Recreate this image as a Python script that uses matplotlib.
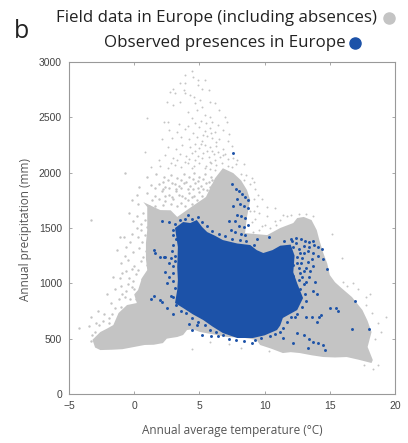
import matplotlib
matplotlib.use("Agg")
import matplotlib.pyplot as plt
from matplotlib.lines import Line2D

# annual temperature (C), annual precipitation (mm)
field_outline = [(-3.2,490),(-3.0,420),(-2.6,397),(-1.7,400),(-0.9,405),(0.0,425),(0.8,443),(1.5,445),(2.2,460),(2.5,500),(2.75,505),(3.3,515),(3.75,533),(4.05,578),
    (4.5,585),(5.05,560),(6.0,540),(7.1,515),(8.3,510),(9.4,488),(9.65,443),(10.5,410),(11.4,370),(12.0,378),(12.7,370),(13.6,350),(14.5,334),(15.4,330),(16.3,334),(17.2,310),(18.2,280),
    (18.3,307),(17.9,425),(18.2,560),(17.9,660),(17.5,759),(16.7,876),(15.9,957),(15.4,1010),(15,1075),(14.8,1180),(14.5,1274),(14.2,1390),(14,1481),
    (13.6,1572),(13.0,1600),(12.5,1590),(12.2,1545),(11.2,1500),(10.2,1436),(8.5,1454),(8.65,1600),(8.9,1752),
    (8.65,1843),(8.2,1930),(7.6,1996),(6.8,2040),(6.2,1950),(5.5,1780),(4.5,1700),(3.3,1600),(2.8,1660),(2,1662),(0.7,1734),
    (1,1690),(1.0,1481),(0.9,1364),(0.9,1220),(1.0,1120),(0.6,1050),(0.3,940),(0.0,900),(0.2,822),(-0.55,804),
    (-1.2,732),(-1.6,623),(-2.1,590),(-2.6,560)]

presence_outline = [(3.13,1500),(3.75,1554),(4.3,1545),(4.8,1572),(5.2,1510),(5.6,1463),(6.2,1430),(6.8,1391),(7.9,1360),(8.9,1346),(9.4,1300),(9.9,1274),
    (10.6,1300),(11.2,1340),(12.0,1350),(12.3,1250),(12.2,1100),(12.5,1000),(12.95,867),(12.5,759),(11.4,687),(11.2,620),(10.95,578),(10.0,530),(9.1,506),
    (7.9,506),(6.8,551),(6.0,610),(5.3,668),(4.5,720),(3.75,777),(3.13,822),(3.3,940),(3.35,1030),(3.3,1147),(3.35,1328)]

field_top = [(4.41,2920),(3.9,2880),(4.5,2866),(4.9,2836),(5.4,2836),(3.5,2806),(3.9,2806),(3.0,2760),
    (2.75,2730),(3.1,2716),(3.8,2746),(4.9,2791),(5.2,2760),(5.7,2746),(4.3,2700),(3.9,2716),(4.55,2686),
    (2.5,2640),(3.5,2640),(3.0,2610),(5.05,2656),(4.7,2626),(5.2,2596),(5.8,2640),(6.2,2626),(4.15,2550),
    (4.8,2565),(5.45,2520),(6.5,2565),(4.4,2490),(5.8,2505),(7,2505),(1,2490),(2.25,2460),(2.6,2460),
    (3.4,2440),(4.1,2425),(4.7,2450),(5.1,2470),(5.5,2445),(6.0,2460),(6.4,2430),(7.1,2460),
    (2.7,2390),(3.3,2370),(3.9,2395),(4.5,2360),(5.0,2410),(5.4,2380),(5.8,2400),(6.2,2365),(6.8,2390),(7.3,2350),
    (0.8,2190),(2.1,2300),(2.9,2310),(3.6,2320),(4.2,2300),(4.8,2320),(5.2,2290),(5.6,2330),(6.0,2310),(6.5,2300),(7.2,2290),
    (2.6,2230),(3.2,2210),(3.7,2250),(4.3,2230),(4.7,2260),(5.0,2220),(5.4,2250),(5.8,2230),(6.3,2245),(6.8,2210),(7.5,2240),
    (1.9,2110),(2.4,2160),(3.0,2130),(3.5,2170),(4.0,2150),(4.4,2180),(4.9,2150),(5.3,2175),(5.7,2140),(6.1,2165),(6.6,2140),(7.0,2170),(7.6,2130),
    (1.3,2050),(2.0,2060),(2.6,2040),(3.1,2070),(3.6,2050),(4.1,2085),(4.6,2060),(5.0,2090),(5.5,2060),(5.9,2085),(6.3,2070),(7.8,2080),
    (5.3,2340),(5.9,2355),(6.3,2280),(5.1,2260),(5.6,2200),(6.0,2195),(6.4,2190),(6.8,2160),(7.2,2120),(4.7,2200),(5.2,2130),(5.8,2100),(6.2,2115),(6.7,2090),(7.2,2060),(7.5,2050),
    (4.2,2125),(4.7,2110),(5.4,2040),(5.8,2035),(6.2,2020),(3.9,2100),(4.4,2040),(3.3,2110),(2.8,2090)]

field_left = [(1.0,1960),(1.7,1990),(2.3,1960),(2.8,1980),(3.3,1950),(3.8,1990),(4.2,1960),(4.6,1995),(5.0,1965),(5.4,1985),(5.9,1960),
    (0.4,1870),(1.3,1890),(1.9,1900),(2.4,1870),(2.9,1905),(3.4,1880),(3.8,1910),(4.3,1880),(4.7,1905),(5.1,1880),(5.5,1905),(6.0,1890),
    (0.2,1800),(1.0,1820),(1.6,1790),(2.1,1830),(2.7,1800),(3.2,1835),(3.7,1790),(4.2,1820),(4.6,1790),(5.0,1825),(5.6,1840),
    (-0.2,1750),(0.3,1720),(1.4,1750),(2.4,1740),(3.0,1760),(3.6,1725),(4.1,1750),
    (-0.4,1640),(0.2,1610),(0.7,1640),(1.2,1600),(1.6,1570),(0.5,1540),(1.0,1510),
    (-0.8,1420),(-0.2,1450),(0.3,1420),(0.8,1440),(1.2,1390),
    (-1.3,1300),(-0.6,1330),(-0.1,1280),(0.4,1320),(0.9,1290),(1.3,1260),
    (-1.0,1180),(-0.5,1210),(0.0,1160),(0.5,1200),(1.0,1170),(1.5,1200),
    (-1.6,1060),(-0.9,1090),(-0.4,1050),(0.1,1080),(0.6,1040),(1.0,1080),
    (-2.1,900),(-1.5,950),(-1.0,980),(-0.6,930),(-0.2,970),(0.2,900),(-1.8,820),(-1.2,860),(-0.7,880),
    (-2.8,750),(-3.3,700),(-4.2,600),(-2.3,720),(-1.9,690),(-3.0,560),(-3.5,610),(-0.7,2000),(-1.1,1420),(-3.3,1570),
    (2.2,1920),(2.6,1935),(3.1,1900),(3.6,1930),(4.0,1915),(4.5,1940),(4.9,1925),(5.3,1945),(5.7,1920),(6.0,1935),
    (1.6,1860),(2.2,1850),(2.7,1860),(3.2,1855),(3.6,1860),(4.1,1850),(4.5,1850),(4.9,1860),(5.3,1850),(5.8,1870),
    (2.4,1790),(2.9,1780),(3.4,1800),(3.9,1770),(4.4,1780),(4.8,1750),(5.2,1790),(1.9,1760),(1.1,1700),(1.6,1700),(2.2,1710),(2.8,1720),(3.3,1700),(3.9,1700),(4.4,1720),
    (0.8,1570),(1.2,1540),(1.5,1610),(2.0,1620),(2.6,1610),(0.5,1480),(0.6,1370),(0.7,1240),
    (0.3,1120),(-0.2,1130),(-0.1,1020),(-0.5,990),(0.0,950),(-0.9,900),(-0.3,860),(0.1,860),
    (-0.6,1110),(-1.1,1050),(-0.7,1250),(-0.3,1370),(0.2,1500),(-0.1,1560),
    (-1.5,780),(-1.0,790),(-1.9,640),(-2.7,620),(-2.9,640),(-2.4,660),(-1.7,720),(-3.2,530),(-3.3,480)]

field_right = [(15.2,1450),(15.9,1230),(16.0,1010),(16.3,975),(16.8,1000),(17.2,950),(17.8,880),(18.1,900),
    (17.8,800),(18.2,730),(18.7,640),(19.3,700),(18.9,560),(18.5,500),(18.7,260),(18.3,230),(17.6,260),
    (11.4,1620),(10.8,1560),(10.2,1610),(9.8,1520),(9.4,1700),(9.8,1760),(9.3,1850),(10.2,1690),(9.0,1950),
    (8.4,2080),(7.9,2110),(8.2,1990),(11.7,1610),(10.8,1680),(4.4,410),(5.8,470),(7.3,450),(8.2,420),(10.3,390),
    (9.0,1550),(9.3,1580),(9.6,1480),(10.0,1530),(10.4,1500),(10.9,1530),(9.1,1460),(8.9,1650),(9.2,1650),(9.6,1640),
    (11.2,1570),(12.0,1620),(12.6,1630),(13.2,1630),(13.7,1610),(9.2,1760),(9.5,1800),(8.9,1900),(9.2,1920),(8.6,1980),(8.4,1930)]

presence_scattered = [(7.6,2175),(2.1,1560),(2.7,1550),(3.0,1435),(1.5,1300),(2.0,1240),(2.3,1235),(2.8,1225),
    (3.0,1160),(2.4,1100),(2.7,1060),(2.5,1000),(3.0,1090),(1.6,1270),(2.1,830),(1.5,890),(2.0,850),(2.5,780),(3.0,720),
    (2.4,1240),(2.7,1180),(1.3,860),(2.8,890),(4.2,635),(4.8,620),(5.2,535),(5.9,525),(6.4,520),(4.4,575),(9.0,460),
    (7.5,1900),(7.8,1850),(8.0,1830),(8.3,1810),(8.5,1780),(8.7,1750),(7.9,1760),(7.6,1700),(8.1,1720),(8.4,1700),(8.7,1680),
    (7.9,1620),(8.2,1610),(8.5,1590),(7.3,1560),(7.7,1560),(8.0,1520),(8.4,1510),(8.7,1530),(8.2,1450),(7.7,1460),(8.5,1440),(7.4,1480),(10.3,1420),(9.4,1405),
    (11.5,1380),(12.0,1400),(12.4,1410),(12.8,1400),(13.1,1385),(13.4,1370),(13.8,1350),(14.1,1330),(14.4,1310),
    (12.2,1330),(12.6,1310),(13.0,1340),(13.3,1290),(13.7,1270),(14.1,1250),(14.5,1220),(14.8,1130),(12.1,1250),(12.5,1240),(12.9,1230),(13.3,1190),(13.7,1160),
    (12.2,1170),(12.6,1140),(13.0,1110),(13.4,1060),(13.9,1010),(12.2,1070),(12.6,1030),(13.0,990),(12.2,1000),(12.7,950),
    (13.7,930),(14.0,900),(15.5,780),(15.6,750),(14.2,700),(13.2,695),(13.6,695),(14.3,715),(14.0,650),(11.4,510),(12.2,465),(13.3,420),(12.5,550),
    (13.0,530),(13.4,500),(13.7,470),(14.1,460),(14.5,440),(14.6,400),(16.9,840),(15.0,780),(16.7,590),(18.0,590),(12.0,1100),(12.1,800),(12.3,700),
    (3.1,1540),(3.0,1480),(3.2,1400),(3.0,1350),(2.9,1290),(3.1,1250),(3.1,1200),(3.0,1020),(3.1,960),(3.0,880),(3.2,800),(3.6,750),(4.0,730),(4.4,690),
    (4.9,650),(5.4,620),(5.8,580),(6.3,560),(6.8,530),(7.3,500),(7.8,485),(8.4,480),(9.3,490),(9.7,505),(10.4,520),(10.8,545),(11.2,560),(11.4,600),(11.7,650),
    (12.0,700),(12.5,720),(12.9,790),(13.2,840),(13.1,900),(12.3,880),
    (9.2,1350),(8.6,1380),(8.1,1390),(7.5,1400),(7.0,1430),(6.5,1450),(6.0,1470),(5.6,1520),(5.2,1550),(4.9,1600),(4.4,1585),(3.9,1585),(3.5,1570),(4.1,1620),
    (12.4,1360),(12.7,1270),(13.0,1270),(13.4,1330),(13.6,1220),(13.2,1140),(12.8,1180),(13.5,1110),(12.9,1060),(13.2,1010),(12.7,1090),(12.5,1180),(13.7,1380),(12.1,1380)]

title_line1 = "Field data in Europe (including absences)"
title_line2 = "Observed presences in Europe"
x_ticks = [-5, 0, 5, 10, 15, 20]
y_ticks = [0, 500, 1000, 1500, 2000, 2500, 3000]

grey = "#c4c4c4"
blue = "#1c52a8"

def scatter(ax, pts, color, size):
    ax.scatter([p[0] for p in pts], [p[1] for p in pts], s=size, color=color, linewidths=0)

fig = plt.figure(figsize=(4.08, 4.43), dpi=100)
ax = fig.add_axes([69/408, 1 - 394/443, 326/408, 332/443])

ax.fill([p[0] for p in field_outline], [p[1] for p in field_outline], color=grey, linewidth=0)
scatter(ax, field_top, grey, 2.0)
scatter(ax, field_left, grey, 3.0)
scatter(ax, field_right, grey, 2.0)
ax.fill([p[0] for p in presence_outline], [p[1] for p in presence_outline], color=blue, linewidth=0)
scatter(ax, presence_scattered, blue, 4.5)

ax.set_xlim(-5, 20)
ax.set_ylim(0, 3000)
ax.set_xticks(x_ticks)
ax.set_yticks(y_ticks)
ax.tick_params(direction="in", length=2, width=0.6, color="#999999", labelsize=7.5, labelcolor="#444444",
               top=True, right=True, pad=5)
for s in ax.spines.values():
    s.set_color("#999999")
    s.set_linewidth(0.8)
ax.set_xlabel("Annual average temperature (°C)", fontsize=8.5, color="#555555")
ax.set_ylabel("Annual precipitation (mm)", fontsize=8.5, color="#555555")
ax.xaxis.set_label_coords(0.5, -0.09)
ax.yaxis.set_label_coords(-0.113, 0.495)
for t in ax.get_xticklabels() + ax.get_yticklabels():
    t.set_family("Liberation Sans")
for lab in (ax.xaxis.label, ax.yaxis.label):
    lab.set_family("Open Sans")

fig.text(217/408, 1 - 18/443, title_line1, ha="center", va="center", fontsize=12.2, family="Open Sans", color="#222222")
fig.text(225/408, 1 - 43/443, title_line2, ha="center", va="center", fontsize=12.2, family="Open Sans", color="#222222")
fig.text(21/408, 1 - 31/443, "b", ha="center", va="center", fontsize=18, family="Open Sans", color="#222222")

fig.add_artist(Line2D([389/408], [1 - 18/443], marker="o", markersize=8, color=grey, transform=fig.transFigure))
fig.add_artist(Line2D([355/408], [1 - 43/443], marker="o", markersize=8, color=blue, transform=fig.transFigure))

fig.savefig("out.png", dpi=100)
